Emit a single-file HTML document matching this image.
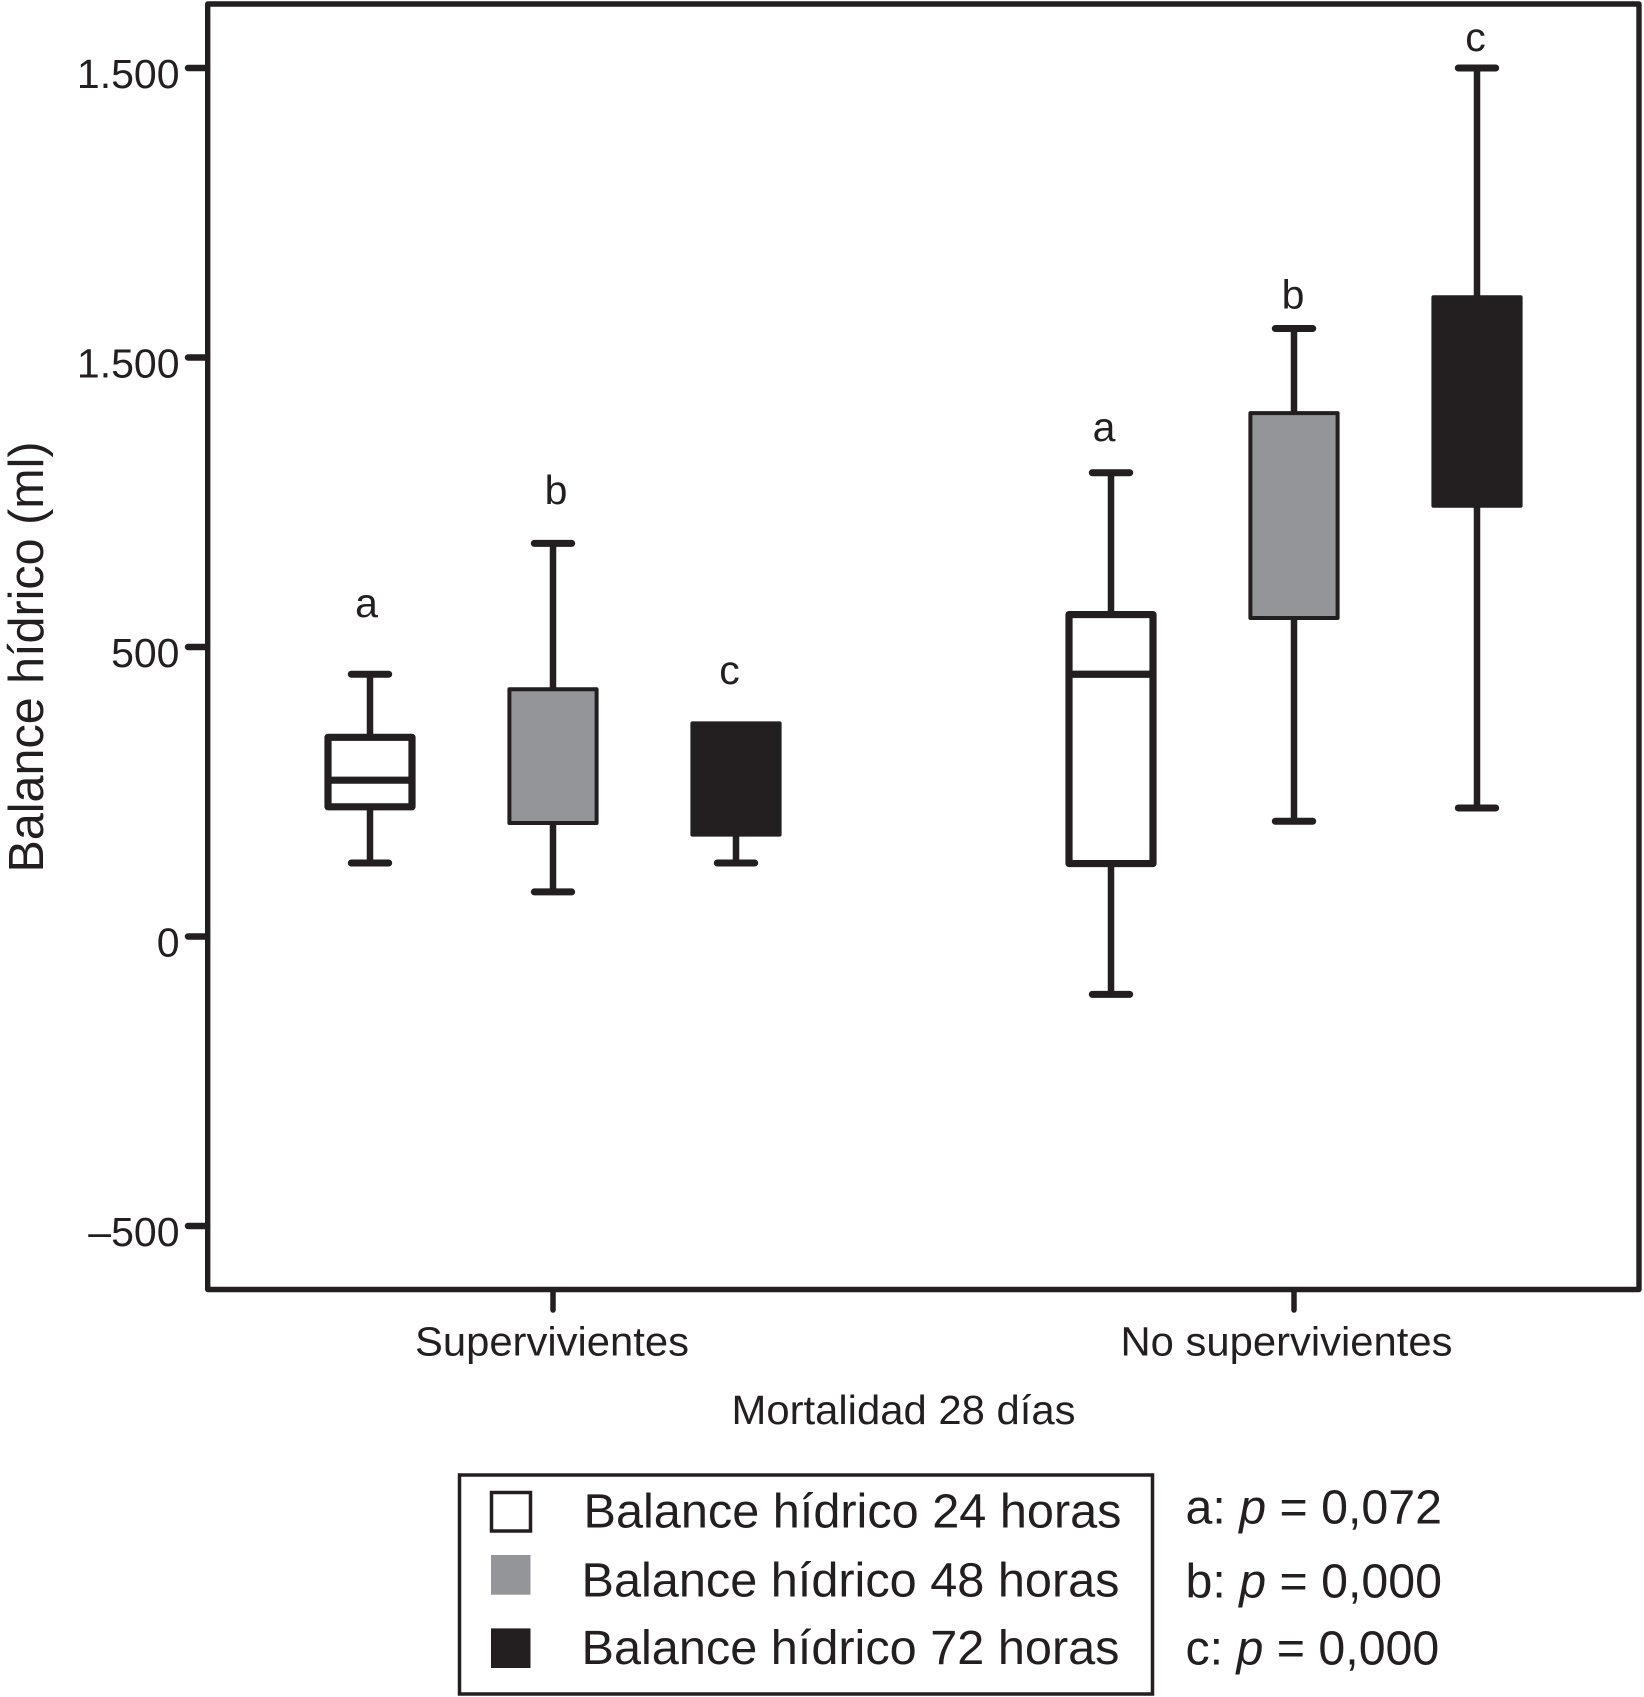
<!DOCTYPE html>
<html lang="es">
<head>
<meta charset="utf-8">
<title>Balance hídrico</title>
<style>
html,body{margin:0;padding:0;background:#fff;}
svg{display:block;}
text{font-family:"Liberation Sans",Arial,sans-serif;fill:#231f20;}
</style>
</head>
<body>
<svg id="chart" xmlns="http://www.w3.org/2000/svg" width="1644" height="1697" viewBox="0 0 1644 1697">
  <rect x="0" y="0" width="1644" height="1697" fill="#ffffff"/>
  <rect x="207.7" y="4" width="1431.3" height="1285.5" fill="none" stroke="#231f20" stroke-width="5.4" stroke-linejoin="round"/>
  <g id="y-axis"></g>
  <g id="x-axis"></g>
  <g id="boxes"></g>
  <g id="letters"></g>

  <text transform="translate(43,872.5) rotate(-90)" font-size="49" textLength="431" lengthAdjust="spacingAndGlyphs">Balance hídrico (ml)</text>
  <text x="731.5" y="1424" font-size="41" textLength="344" lengthAdjust="spacingAndGlyphs">Mortalidad 28 días</text>

  <g>
    <rect x="459.5" y="1475" width="693" height="219" fill="none" stroke="#231f20" stroke-width="3.5"/>
    <rect x="491.5" y="1492.5" width="39" height="38.5" fill="#ffffff" stroke="#231f20" stroke-width="3.5"/>
    <rect x="491" y="1555" width="39.5" height="39.7" fill="#939598"/>
    <rect x="491" y="1628.4" width="39.5" height="39.6" fill="#231f20"/>
    <text x="583.5" y="1527.6" font-size="48.5" textLength="538" lengthAdjust="spacingAndGlyphs">Balance hídrico 24 horas</text>
    <text x="581.5" y="1596.4" font-size="48.5" textLength="538" lengthAdjust="spacingAndGlyphs">Balance hídrico 48 horas</text>
    <text x="581.5" y="1664" font-size="48.5" textLength="538" lengthAdjust="spacingAndGlyphs">Balance hídrico 72 horas</text>
  </g>

  <g>
    <text x="1185.5" y="1523.5" font-size="48.3">a: <tspan font-style="italic">p</tspan> = 0,072</text>
    <text x="1185.5" y="1597.3" font-size="48.3">b: <tspan font-style="italic">p</tspan> = 0,000</text>
    <text x="1185.5" y="1664.4" font-size="48.3">c: <tspan font-style="italic">p</tspan> = 0,000</text>
  </g>
</svg>

<script>
// ---- chart data (values in ml) ----
const categories = ['Supervivientes', 'No supervivientes'];
const seriesNames = ['24 horas', '48 horas', '72 horas'];
const seriesFills = ['#ffffff', '#939598', '#231f20'];
const seriesLetters = ['a', 'b', 'c'];
const yTickValues = [-500, 0, 500, 1000, 1500];
const yTickLabels = ['–500', '0', '500', '1.500', '1.500'];

const whiskerHigh = [[453, 679, 368], [801, 1050, 1500]];
const boxTop      = [[344, 427, 368], [556, 904, 1104]];
const medians     = [[270, null, null], [453, null, null]];
const boxBottom   = [[224, 196, 176], [126, 550, 744]];
const whiskerLow  = [[127, 77, 127], [-100, 199, 222]];
const letterLevel = [[552, 747, 436], [856, 1085, 1529]];

// ---- axis functions ----
function yScale(v) { return 936.5 - v * 0.579; }
function xCategory(i) { return 553 + i * 741; }
function xBox(i, s) { return xCategory(i) + (s - 1) * 183; }

const NS = 'http://www.w3.org/2000/svg';
const INK = '#231f20';
function mk(parent, tag, attrs, txt) {
  const el = document.createElementNS(NS, tag);
  for (const k in attrs) el.setAttribute(k, attrs[k]);
  if (txt !== undefined) el.textContent = txt;
  parent.appendChild(el);
  return el;
}
function line(parent, x1, y1, x2, y2, w) {
  return mk(parent, 'line', { x1: x1, y1: y1, x2: x2, y2: y2, stroke: INK, 'stroke-width': w, 'stroke-linecap': 'round' });
}

// ---- y axis ----
const yAxis = document.getElementById('y-axis');
yTickValues.forEach(function (v, i) {
  const tick = line(yAxis, 188, yScale(v), 207, yScale(v), 6.5);
  
  
  const label = mk(yAxis, 'text', { x: 179.5, y: yScale(v) + 20, 'font-size': 41, 'text-anchor': 'end' }, yTickLabels[i]);
  
  
});

// ---- x axis ----
const xAxis = document.getElementById('x-axis');
categories.forEach(function (c, i) {
  const tick = line(xAxis, xCategory(i), 1290, xCategory(i), 1310, 5.5);
  
  
  const label = mk(xAxis, 'text', { x: xCategory(i) - 1 - i * 6.5, y: 1355.5, 'font-size': 41, 'text-anchor': 'middle', textLength: i === 0 ? 274 : 332, lengthAdjust: 'spacingAndGlyphs' }, c);
  
  
});

// ---- boxes ----
const boxesG = document.getElementById('boxes');
const lettersG = document.getElementById('letters');
const letterNudge = function (i, s) { return (i === 0 ? [-3.5, 3, -6.5] : [-7, -1, -1.5])[s]; };
categories.forEach(function (c, i) {
  seriesNames.forEach(function (name, s) {
    const x = xBox(i, s);
    const id = i + '-' + s;
    const capHalf = 18.7;
    const sw = s === 0 ? 7.2 : 4;
    const halfW = 45.6 - sw / 2;

    if (whiskerHigh[i][s] > boxTop[i][s]) {
      const up = line(boxesG, x, yScale(whiskerHigh[i][s]), x, yScale(boxTop[i][s]), 6.5);
      
      
      const capHi = line(boxesG, x - capHalf, yScale(whiskerHigh[i][s]), x + capHalf, yScale(whiskerHigh[i][s]), 7);
      
      
    }
    const down = line(boxesG, x, yScale(boxBottom[i][s]), x, yScale(whiskerLow[i][s]), 6.5);
    
    
    const capLo = line(boxesG, x - capHalf, yScale(whiskerLow[i][s]), x + capHalf, yScale(whiskerLow[i][s]), 7);
    
    

    const rect = mk(boxesG, 'rect', {
      x: x - halfW, y: yScale(boxTop[i][s]), width: 2 * halfW,
      height: yScale(boxBottom[i][s]) - yScale(boxTop[i][s]),
      fill: seriesFills[s], stroke: INK, 'stroke-width': sw, 'stroke-linejoin': 'round'
    });
    
    

    if (medians[i][s] !== null) {
      const med = mk(boxesG, 'line', { x1: x - halfW, y1: yScale(medians[i][s]), x2: x + halfW, y2: yScale(medians[i][s]), stroke: INK, 'stroke-width': 7.2 });
      
      
    }

    const letter = mk(lettersG, 'text', { x: x + letterNudge(i, s), y: yScale(letterLevel[i][s]), 'font-size': 41, 'text-anchor': 'middle' }, seriesLetters[s]);
    
    
  });
});
</script>
</body>
</html>
